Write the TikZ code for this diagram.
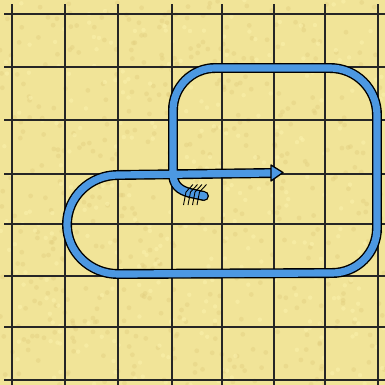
\documentclass[tikz,border=0pt]{standalone}
\definecolor{paper}{RGB}{241,228,152}
\definecolor{paperdark}{RGB}{224,205,125}
\definecolor{paperlight}{RGB}{250,240,170}
\definecolor{tube}{RGB}{76,152,226}
\tikzset{
  gridline/.style={draw=black!85, line width=1.1},
  tubeout/.style={draw=black, line width=10, line cap=butt, line join=round},
  tubein/.style={draw=tube, line width=7.2, line cap=butt, line join=round},
  feather/.style={draw=black, line width=0.9}
}
\begin{document}
\begin{tikzpicture}[x=1bp,y=-1bp]
\fill[paper] (0,0) rectangle (385,385);
\useasboundingbox (0,0) rectangle (385,385);
% mottled texture
\pgfmathsetseed{7}
\foreach \i in {1,...,500}{
  \pgfmathsetmacro{\px}{rnd*385}
  \pgfmathsetmacro{\py}{rnd*385}
  \fill[paperdark, opacity=0.4] (\px,\py) circle (2.4);
}
\foreach \i in {1,...,300}{
  \pgfmathsetmacro{\px}{rnd*385}
  \pgfmathsetmacro{\py}{rnd*385}
  \fill[paperlight, opacity=0.6] (\px,\py) circle (2.2);
}
% grid
\foreach \v in {12,65,118,172,222,274,325,378}{
  \draw[gridline] (\v,4) -- (\v,385);
  \draw[gridline] (4,\v+2) -- (385,\v+2);
}
% path coordinates
\coordinate (s) at (204,196);
\coordinate (e) at (271,173);
\def\tubepath{(s) -- (190,193) .. controls (179,190) and (173,185) .. (173,173)
  -- (173,110) .. controls (173,87) and (192,68) .. (215,68)
  -- (330,68) .. controls (356,68) and (377,89) .. (377,115)
  -- (377,228) .. controls (377,253) and (357,273) .. (332,273)
  -- (118,274) .. controls (90,274) and (67,252) .. (67,224.5)
  .. controls (67,197) and (90,175) .. (118,175) -- (e)}
\draw[tubeout] \tubepath;
\fill[black] (s) circle (5);
\draw[tubein] \tubepath;
\fill[tube] (s) circle (3.6);
% arrow head
\coordinate (tip) at (283,172.5);
\filldraw[fill=tube, draw=black, line width=1.3, line join=round]
  ([yshift=-8]e) -- (tip) -- ([yshift=8]e) -- cycle;
% feathers
\foreach \x in {185,189.5,194,198.5}{
  \draw[feather] (\x-1.5,205) -- (\x+1,192) -- (\x+8,184.5);
}
\end{tikzpicture}
\end{document}
